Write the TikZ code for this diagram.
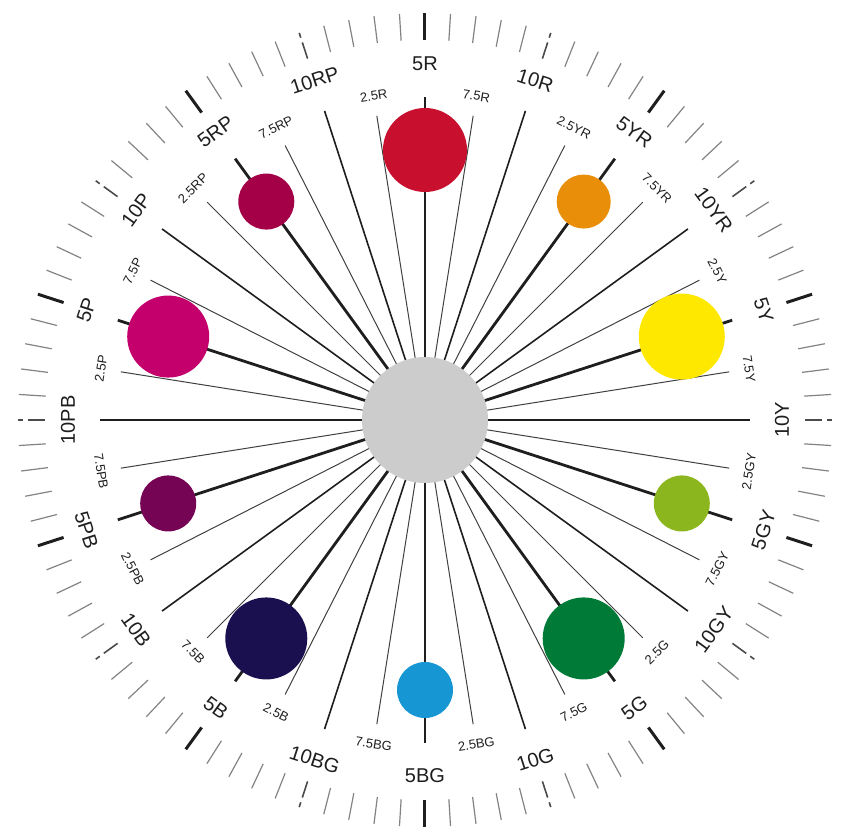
\documentclass[tikz,border=0pt]{standalone}
\usepackage{fontspec}
\setmainfont{Liberation Sans}
\definecolor{cR}{RGB}{200,16,46}
\definecolor{cYR}{RGB}{232,142,8}
\definecolor{cY}{RGB}{255,232,0}
\definecolor{cGY}{RGB}{140,182,30}
\definecolor{cG}{RGB}{0,122,55}
\definecolor{cBG}{RGB}{22,150,210}
\definecolor{cB}{RGB}{26,16,80}
\definecolor{cPB}{RGB}{118,4,84}
\definecolor{cP}{RGB}{196,0,108}
\definecolor{cRP}{RGB}{164,0,72}
\definecolor{ink}{RGB}{30,30,30}
\tikzset{
  fiveline/.style={draw=ink, line width=2.8pt},
  tenline/.style={draw=ink, line width=1.6pt},
  minorline/.style={draw=ink!85, line width=1.0pt},
  majorlab/.style={text=ink, font=\fontsize{20}{20}\selectfont, inner sep=0pt},
  minorlab/.style={text=ink, font=\fontsize{13}{13}\selectfont, inner sep=0pt},
  bigtick/.style={draw=ink, line width=3pt},
  midtick/.style={draw=ink!80, line width=1.6pt, dash pattern=on 17pt off 5pt on 6pt},
  smalltick/.style={draw=ink!55, line width=1.2pt},
  hub/.style={circle, fill=black!20, inner sep=0pt, minimum size=126pt},
  swatch/.style={circle, inner sep=0pt}
}
\begin{document}
\begin{tikzpicture}[x=1pt,y=1pt]
\useasboundingbox (-425,-415) rectangle (421,420);
\coordinate (O) at (0,0);
% radial hue lines and labels
\foreach \k/\lab in {0/5R,1/7.5R,2/10R,3/2.5YR,4/5YR,5/7.5YR,6/10YR,7/2.5Y,8/5Y,9/7.5Y,10/10Y,11/2.5GY,12/5GY,13/7.5GY,14/10GY,15/2.5G,16/5G,17/7.5G,18/10G,19/2.5BG,20/5BG,21/7.5BG,22/10BG,23/2.5B,24/5B,25/7.5B,26/10B,27/2.5PB,28/5PB,29/7.5PB,30/10PB,31/2.5P,32/5P,33/7.5P,34/10P,35/2.5RP,36/5RP,37/7.5RP,38/10RP,39/2.5R}{
  \pgfmathsetmacro\a{90-9*\k}
  \pgfmathsetmacro\an{\a<=-180 ? \a+360 : \a}
  \pgfmathsetmacro\rot{\an>0 ? \an-90 : \an+90}
  \pgfmathtruncatemacro\m{mod(\k,4)}
  \ifcase\m
    \coordinate (E\k) at (\an:323);
    \draw[fiveline] (O) -- (E\k);
    \node[majorlab, rotate=\rot] (L\k) at (\an:356) {\lab};
  \or
    \coordinate (E\k) at (\an:308);
    \draw[minorline] (O) -- (E\k);
    \node[minorlab, rotate=\rot] (L\k) at (\an:328) {\lab};
  \or
    \coordinate (E\k) at (\an:325);
    \draw[tenline] (O) -- (E\k);
    \node[majorlab, rotate=\rot] (L\k) at (\an:357) {\lab};
  \or
    \coordinate (E\k) at (\an:308);
    \draw[minorline] (O) -- (E\k);
    \node[minorlab, rotate=\rot] (L\k) at (\an:328) {\lab};
  \fi
}
% centre
\node[hub] (hubc) at (O) {};
% colour swatches
\foreach \j/\col/\rad in {0/cR/42,1/cYR/27,2/cY/43,3/cGY/28,4/cG/41,5/cBG/28,6/cB/41,7/cPB/28,8/cP/41,9/cRP/28}{
  \pgfmathsetmacro\d{2*\rad}
  \node[swatch, fill=\col, minimum size=\d pt] (C\j) at ({90-36*\j}:270) {};
}
% outer ticks
\foreach \i in {0,...,99}{
  \pgfmathsetmacro\t{90-3.6*\i}
  \pgfmathtruncatemacro\mm{mod(\i,10)}
  \coordinate (Ta\i) at (\t:380);
  \coordinate (Tb\i) at (\t:407);
  \ifnum\mm=0
    \draw[bigtick] (Ta\i) -- (Tb\i);
  \else\ifnum\mm=5
    \draw[midtick] (Ta\i) -- (Tb\i);
  \else
    \draw[smalltick] (Ta\i) -- (Tb\i);
  \fi\fi
}
\end{tikzpicture}
\end{document}
